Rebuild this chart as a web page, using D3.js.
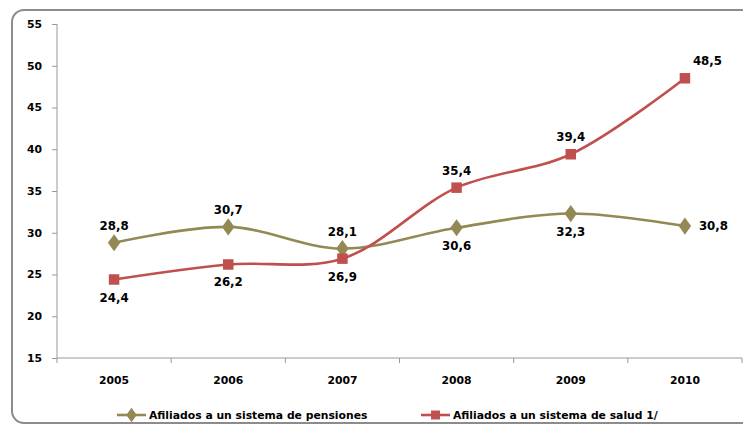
<!DOCTYPE html>
<html>
<head>
<meta charset="utf-8">
<script src="https://cdn.jsdelivr.net/npm/d3@7"></script>
<style>
  body { margin: 0; background: #fff; }
  text { font-family: "DejaVu Sans", Verdana, sans-serif; font-weight: bold; fill: #000; }
</style>
</head>
<body>
<script>
// chart data
var years = ["2005", "2006", "2007", "2008", "2009", "2010"];
var pensiones = [28.8, 30.7, 28.1, 30.6, 32.3, 30.8];
var salud = [24.4, 26.2, 26.9, 35.4, 39.4, 48.5];
var yTicks = [15, 20, 25, 30, 35, 40, 45, 50, 55];
var seriesNames = ["Afiliados a un sistema de pensiones", "Afiliados a un sistema de salud 1/"];

// where each data label sits relative to its marker
var pensPos = ["above", "above", "above", "below", "below", "right"];
var saludPos = ["below", "below", "below", "above", "above", "aboveright"];

var width = 743, height = 426;
var margin = {top: 24, right: 1, bottom: 67, left: 57};

var svg = d3.select("body").append("svg").attr("width", width).attr("height", height);

// outer rounded frame, clipped on the right like the reference
svg.append("rect")
  .attr("x", 12).attr("y", 10)
  .attr("width", 780).attr("height", 413)
  .attr("rx", 12).attr("ry", 12)
  .attr("fill", "none").attr("stroke", "#8c8c8c").attr("stroke-width", 2);

var g = svg.append("g").attr("transform", "translate(" + margin.left + "," + margin.top + ")");
var w = 742 - margin.left, h = 358 - margin.top;

var x = d3.scaleBand().domain(years).range([0, w]);
var y = d3.scaleLinear().domain([15, 55]).range([h, 0]);

// y axis
var yAxis = d3.axisLeft(y).tickValues(yTicks).tickSize(5).tickPadding(10);
var yg = g.append("g").call(yAxis);
yg.select(".domain").attr("stroke", "#999").attr("d", "M0,0V" + h);
yg.selectAll(".tick line").attr("stroke", "#999");
yg.selectAll(".tick text").style("font-size", "10.8px").attr("font-family", null);

// x axis: ticks at the band edges
var xg = g.append("g").attr("transform", "translate(0," + h + ")");
xg.append("line").attr("x1", 0).attr("x2", w).attr("stroke", "#999");
xg.selectAll(".edge").data(d3.range(years.length + 1)).enter().append("line")
  .attr("x1", function(i) { return i * x.bandwidth(); })
  .attr("x2", function(i) { return i * x.bandwidth(); })
  .attr("y1", 0).attr("y2", 5).attr("stroke", "#999");
xg.selectAll(".lbl").data(years).enter().append("text")
  .attr("x", function(d) { return x(d) + x.bandwidth() / 2; })
  .attr("y", 26)
  .attr("text-anchor", "middle")
  .style("font-size", "10.8px")
  .text(function(d) { return d; });

var line = d3.line()
  .curve(d3.curveCatmullRom.alpha(0.5))
  .x(function(d, i) { return x(years[i]) + x.bandwidth() / 2; })
  .y(function(d) { return y(d); });

var olive = "#938953", red = "#c0504d";

function fmt(v) { return v.toFixed(1).replace(".", ","); }

function drawSeries(data, color, shape, pos) {
  g.append("path").attr("d", line(data))
    .attr("fill", "none").attr("stroke", color).attr("stroke-width", 2.6);
  var sym = d3.symbol().type(shape).size(shape === d3.symbolSquare ? 110 : 85);
  g.selectAll(null).data(data).enter().append("path")
    .attr("d", sym)
    .attr("fill", color)
    .attr("transform", function(d, i) {
      var t = "translate(" + (x(years[i]) + x.bandwidth() / 2) + "," + y(d) + ")";
      return shape === d3.symbolDiamond ? t + " scale(1.25,1)" : t;
    });
  g.selectAll(null).data(data).enter().append("text")
    .attr("x", function(d, i) {
      var cx = x(years[i]) + x.bandwidth() / 2;
      if (pos[i] === "right") return cx + 14;
      if (pos[i] === "aboveright") return cx + 8;
      return cx;
    })
    .attr("y", function(d, i) {
      var cy = y(d);
      if (pos[i] === "above") return cy - 13;
      if (pos[i] === "aboveright") return cy - 13;
      if (pos[i] === "below") return cy + 22;
      return cy + 4;
    })
    .attr("text-anchor", function(d, i) { return (pos[i] === "right" || pos[i] === "aboveright") ? "start" : "middle"; })
    .style("font-size", "11.8px")
    .text(fmt);
}

drawSeries(pensiones, olive, d3.symbolDiamond, pensPos);
drawSeries(salud, red, d3.symbolSquare, saludPos);

// legend
var legend = [
  {name: seriesNames[0], color: olive, shape: d3.symbolDiamond, x: 117},
  {name: seriesNames[1], color: red, shape: d3.symbolSquare, x: 421}
];
var lg = svg.selectAll(".legend").data(legend).enter().append("g")
  .attr("transform", function(d) { return "translate(" + d.x + ",415)"; });
lg.append("line").attr("x1", 0).attr("x2", 29)
  .attr("stroke", function(d) { return d.color; }).attr("stroke-width", 2.6);
lg.append("path")
  .attr("d", function(d) { return d3.symbol().type(d.shape).size(d.shape === d3.symbolSquare ? 80 : 60)(); })
  .attr("fill", function(d) { return d.color; })
  .attr("transform", function(d) { return "translate(14.5,0)" + (d.shape === d3.symbolDiamond ? " scale(1.25,1)" : ""); });
lg.append("text").attr("x", 32).attr("y", 4)
  .style("font-size", "10.8px")
  .text(function(d) { return d.name; });
</script>
</body>
</html>
